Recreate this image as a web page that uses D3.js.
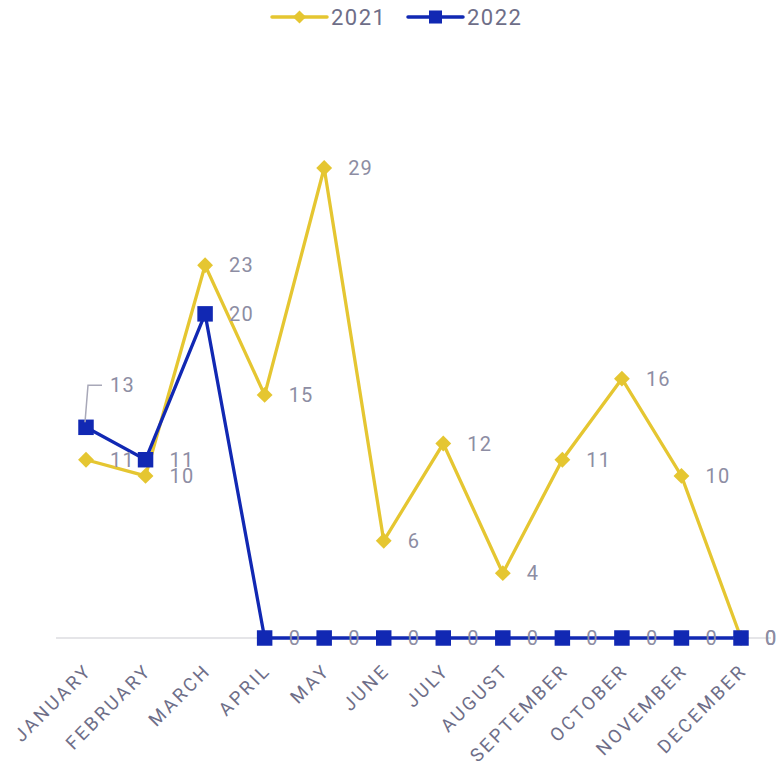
<!DOCTYPE html>
<html><head><meta charset="utf-8">
<script src="https://cdn.jsdelivr.net/npm/d3@7"></script>
<style>body{margin:0;background:#fff}svg{display:block}</style>
</head><body>
<svg id="c" width="779" height="766"></svg>
<script>
const months = ["JANUARY","FEBRUARY","MARCH","APRIL","MAY","JUNE","JULY","AUGUST","SEPTEMBER","OCTOBER","NOVEMBER","DECEMBER"];
const values2021 = [11,10,23,15,29,6,12,4,11,16,10,0];
const values2022 = [13,11,20,0,0,0,0,0,0,0,0,0];
const seriesNames = ["2021","2022"];
const colors = ["#E5C631","#1128B3"];

const svg = d3.select("#c");
const font = "Roboto, 'Liberation Sans', sans-serif";
const x = d3.scalePoint().domain(months).range([86, 741]);
const y = d3.scaleLinear().domain([0, 29]).range([638, 168]);

// baseline
svg.append("line").attr("x1", 56).attr("x2", 771).attr("y1", y(0)).attr("y2", y(0))
  .attr("stroke", "#dcdce0").attr("stroke-width", 1.5);

// x axis labels
const xAxis = d3.axisBottom(x).tickSize(0).tickPadding(0);
const gx = svg.append("g").attr("transform", `translate(0,${y(0)})`).call(xAxis);
gx.select(".domain").remove();
gx.selectAll("text")
  .attr("font-family", font).attr("font-size", 18.5).attr("fill", "#6e6e88")
  .attr("letter-spacing", 2.8)
  .attr("text-anchor", "end").attr("dy", "0.35em")
  .attr("transform", "translate(2,29) rotate(-45)");

const series = [
  {name: seriesNames[0], values: values2021, color: colors[0], shape: "diamond"},
  {name: seriesNames[1], values: values2022, color: colors[1], shape: "square"}
];
const line = d3.line().x((d,i) => x(months[i])).y(d => y(d));
const sym = {diamond: d3.symbol().type(d3.symbolDiamond2).size(160), square: d3.symbol().type(d3.symbolSquare).size(240)};

series.forEach(s => {
  svg.append("path").datum(s.values).attr("d", line)
    .attr("fill", "none").attr("stroke", s.color).attr("stroke-width", 3.3);
});
series.forEach(s => {
  svg.append("g").selectAll("path").data(s.values).join("path")
    .attr("d", sym[s.shape])
    .attr("transform", (d,i) => `translate(${x(months[i])},${y(d)})`)
    .attr("fill", s.color);
});

// value labels
const labelG = svg.append("g").attr("font-family", font).attr("font-size", 20)
  .attr("letter-spacing", 1.2).attr("fill", "#8d8da3");
series.forEach((s, si) => {
  s.values.forEach((v, i) => {
    let lx = x(months[i]) + 24, ly = y(v);
    if (si === 1 && i === 0) {
      const px = x(months[i]), py = y(v);
      svg.append("polyline")
        .attr("points", `${px-1},${py-5} ${px+2},${py-42} ${px+16},${py-42}`)
        .attr("fill", "none").attr("stroke", "#a8a8b8").attr("stroke-width", 1.5);
      lx = px + 24; ly = py - 42;
    }
    labelG.append("text").attr("x", lx).attr("y", ly).attr("dy", "0.35em").text(v);
  });
});

// legend
const lg = svg.append("g");
const legendItems = [
  {x: 272, s: series[0]},
  {x: 408, s: series[1]}
];
legendItems.forEach(it => {
  lg.append("line").attr("x1", it.x).attr("x2", it.x + 55).attr("y1", 17).attr("y2", 17)
    .attr("stroke", it.s.color).attr("stroke-width", 3.5).attr("stroke-linecap", "round");
  lg.append("path").attr("d", it.s.shape === "diamond" ? d3.symbol().type(d3.symbolDiamond2).size(110)() : d3.symbol().type(d3.symbolSquare).size(170)())
    .attr("transform", `translate(${it.x + 27.5},17)`).attr("fill", it.s.color);
  lg.append("text").attr("x", it.x + 59).attr("y", 17).attr("dy", "0.35em")
    .attr("font-family", font).attr("font-size", 22).attr("letter-spacing", 1.5)
    .attr("fill", "#6e6e88").text(it.s.name);
});
</script>
</body></html>
